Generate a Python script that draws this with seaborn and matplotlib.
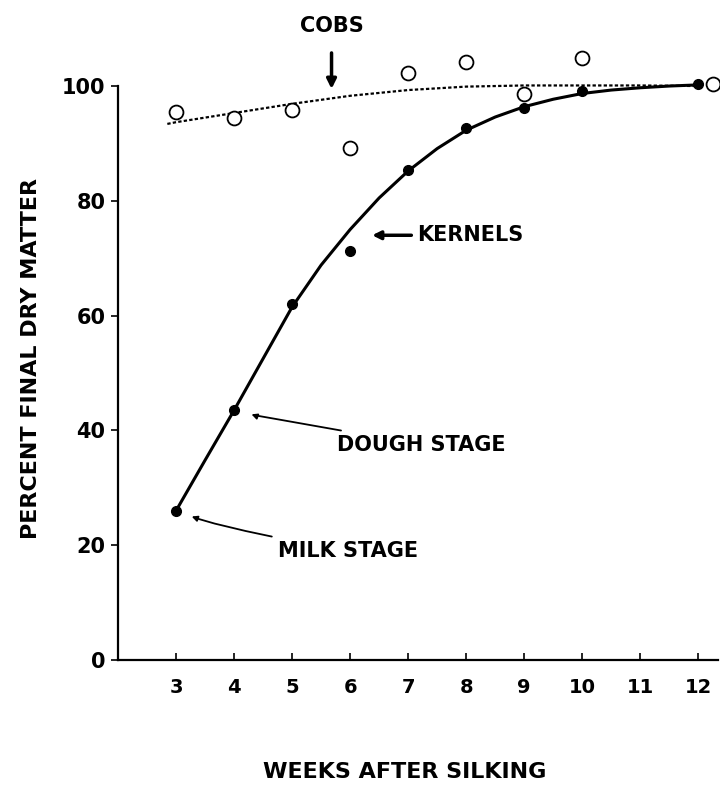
import matplotlib
matplotlib.use('Agg')
import matplotlib.pyplot as plt
import seaborn as sns

# observed points
kernel_weeks = [3, 4, 5, 6, 7, 8, 9, 10, 12]
kernel_pct = [26, 43.5, 62, 71.3, 85.4, 92.7, 96.2, 99.2, 100.4]
cob_weeks = [3, 4, 5, 6, 7, 8, 9, 10, 12.25]
cob_pct = [95.5, 94.4, 95.8, 89.2, 102.2, 104.2, 98.6, 104.9, 100.4]

# fitted curves
kernel_fit_weeks = [3, 3.5, 4, 4.5, 5, 5.5, 6, 6.5, 7, 7.5, 8, 8.5, 9, 9.5, 10, 10.5, 11, 11.5, 12]
kernel_fit_pct = [26, 34.8, 43.5, 52.5, 61.5, 68.8, 75, 80.5, 85.2, 89.1, 92.3, 94.6, 96.4, 97.7, 98.7, 99.3, 99.7, 100, 100.2]
cob_fit_weeks = [2.85, 3, 4, 5, 6, 7, 8, 9, 10, 11, 12]
cob_fit_pct = [93.4, 93.7, 95.3, 96.9, 98.3, 99.3, 99.9, 100.1, 100.1, 100.1, 100.0]

x_ticks = [3, 4, 5, 6, 7, 8, 9, 10, 11, 12]
y_ticks = [0, 20, 40, 60, 80, 100]

sns.set_style("ticks")
plt.rcParams['font.family'] = ['DejaVu Sans']
plt.rcParams['font.weight'] = 'bold'
plt.rcParams['text.color'] = 'black'
plt.rcParams['axes.labelcolor'] = 'black'
plt.rcParams['xtick.color'] = 'black'
plt.rcParams['ytick.color'] = 'black'
plt.rcParams['axes.edgecolor'] = 'black'

fig = plt.figure(figsize=(7.2, 7.89), dpi=100)
ax = fig.add_axes([118 / 720, 1 - 660 / 789, 600 / 720, (660 - 51.6) / 789])

sns.lineplot(x=cob_fit_weeks, y=cob_fit_pct, ax=ax, color='black', lw=1.6,
             linestyle=(0, (1.5, 1)))
sns.lineplot(x=kernel_fit_weeks, y=kernel_fit_pct, ax=ax, color='black', lw=2.2)
ax.plot(cob_weeks, cob_pct, 'o', mfc='white', mec='black', mew=1.3, ms=10, clip_on=False)
ax.plot(kernel_weeks, kernel_pct, 'o', color='black', ms=7, clip_on=False)

ax.set_xlim(2, 12.34)
ax.set_ylim(0, 106)
ax.set_xticks(x_ticks)
ax.set_yticks(y_ticks)
ax.tick_params(axis='x', direction='in', length=5, width=1.2, labelsize=14, pad=13)
ax.tick_params(axis='y', direction='out', length=5, width=1.2, labelsize=15, pad=4)
for lab in ax.get_xticklabels() + ax.get_yticklabels():
    lab.set_fontweight('bold')
sns.despine(ax=ax)
ax.spines['left'].set_bounds(0, 100)
ax.spines['left'].set_linewidth(1.6)
ax.spines['bottom'].set_linewidth(1.6)

ax.set_xlabel("WEEKS AFTER SILKING", fontsize=16, fontweight='bold')
ax.xaxis.set_label_coords(0.478, -0.168)
ax.set_ylabel("PERCENT FINAL DRY MATTER", fontsize=16, fontweight='bold')
ax.yaxis.set_label_coords(-0.128, 0.495)

# annotations
ax.annotate("COBS", xy=(5.68, 99.5), xytext=(5.68, 110.5), ha='center', va='center',
            fontsize=15, fontweight='bold', annotation_clip=False,
            arrowprops=dict(arrowstyle='-|>', color='black', lw=2.5,
                            mutation_scale=14, shrinkA=10, shrinkB=0))
ax.annotate("KERNELS", xy=(6.38, 74), xytext=(7.16, 74), ha='left', va='center',
            fontsize=15, fontweight='bold',
            arrowprops=dict(arrowstyle='-|>', color='black', lw=2.5,
                            mutation_scale=12, shrinkA=2, shrinkB=0))
ax.annotate("DOUGH STAGE", xy=(4.3, 42.8), xytext=(5.78, 37.5), ha='left', va='center',
            fontsize=15, fontweight='bold',
            arrowprops=dict(arrowstyle='-|>', color='black', lw=1.3,
                            mutation_scale=8, shrinkA=4, shrinkB=0,
                            connectionstyle='angle3,angleA=-10,angleB=-20'))
ax.annotate("MILK STAGE", xy=(3.27, 25), xytext=(4.76, 19), ha='left', va='center',
            fontsize=15, fontweight='bold',
            arrowprops=dict(arrowstyle='-|>', color='black', lw=1.3,
                            mutation_scale=8, shrinkA=4, shrinkB=0,
                            connectionstyle='angle3,angleA=-10,angleB=-20'))

plt.savefig("out.png", dpi=100)
plt.close()
